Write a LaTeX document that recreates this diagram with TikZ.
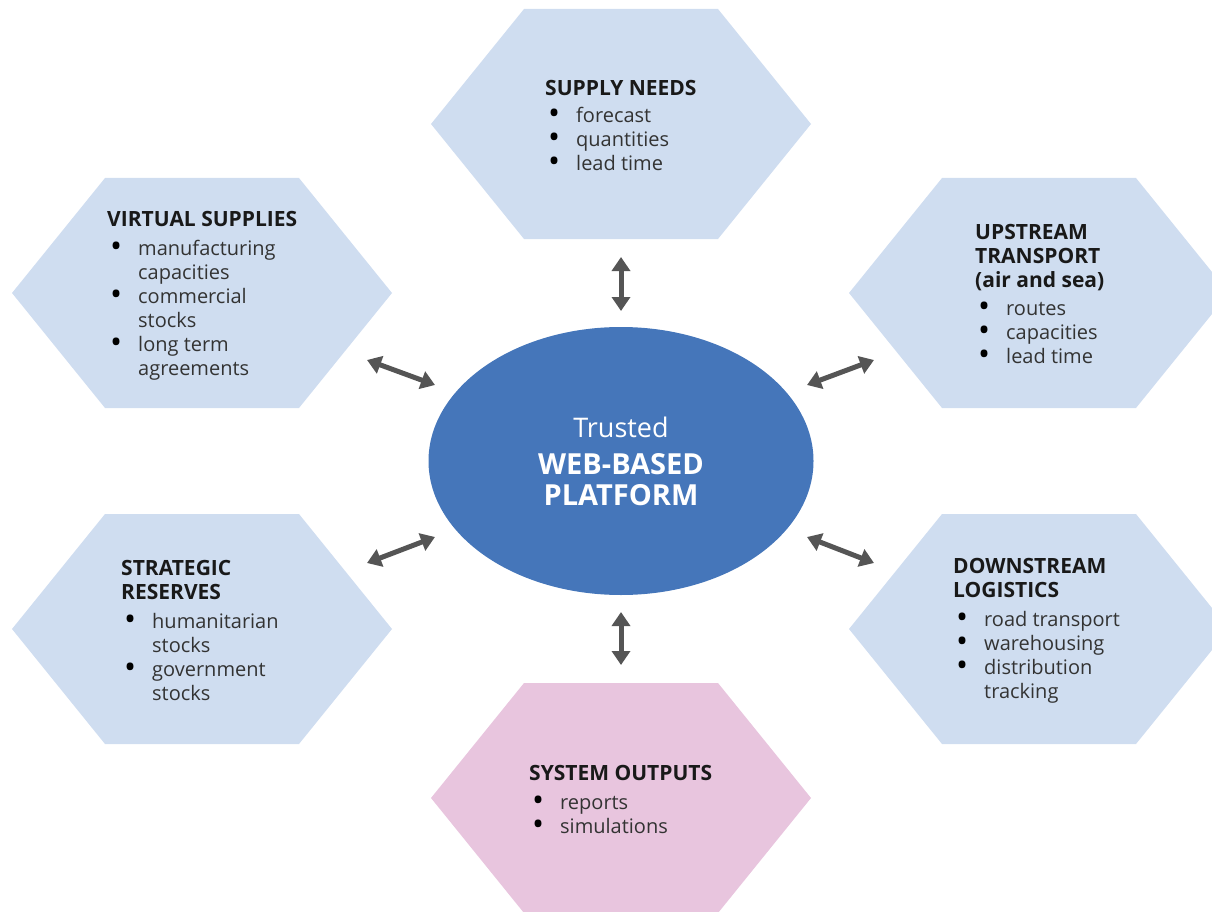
\documentclass[tikz,border=0pt]{standalone}
\usepackage{fontspec}
\setmainfont{Open Sans}
\usetikzlibrary{shapes.geometric,arrows.meta}
\definecolor{hexblue}{HTML}{CFDDF0}
\definecolor{hexpink}{HTML}{E8C5DE}
\definecolor{platblue}{HTML}{4576BA}
\definecolor{arrowgray}{HTML}{555555}
\definecolor{bodygray}{HTML}{333333}
\newcommand{\hexitem}{\hspace*{3pt}\makebox[28pt][l]{\smash{\raisebox{-0.12em}{\scalebox{1.6}{\textcolor{black}{\textbullet}}}}}}
\newcommand{\hexcont}{\hspace*{31pt}}
\newcommand{\hexhead}[1]{\textcolor{black!90}{\fontsize{21}{24}\selectfont\bfseries #1}}

\begin{document}
\begin{tikzpicture}[x=1pt,y=-1pt,
    hexlabel/.style={anchor=north west,inner sep=0pt,align=left,text=bodygray,font=\fontsize{20}{24}\selectfont},
    link/.style={draw=arrowgray,line width=5pt,{Triangle[width=18pt,length=14pt]}-{Triangle[width=18pt,length=14pt]}}]
\useasboundingbox (0,0) rectangle (1212,912);
\clip (0,0) rectangle (1212,912);
% hexagons
\foreach \cx/\cy/\col in {621/124/hexblue,202/293/hexblue,1039/293/hexblue,202/629/hexblue,1039/629/hexblue,621/798/hexpink}
    \fill[fill=\col] (\cx,\cy) ++(-190,0) -- ++(93,-115) -- ++(194,0) -- ++(93,115) -- ++(-93,115) -- ++(-194,0) -- cycle;
% central platform
\node (plat) [ellipse,fill=platblue,minimum width=385pt,minimum height=268pt,inner sep=0pt,align=center,text=white,font=\fontsize{29}{31}\selectfont] at (621,461)
    {{\fontsize{27}{31}\selectfont Trusted}\\[6pt]\textbf{WEB-BASED}\\\textbf{PLATFORM}};
% texts
\node (supply) [hexlabel] at (545,80) {\hexhead{SUPPLY NEEDS}\\[3pt]
    \hexitem forecast\\\hexitem quantities\\\hexitem lead time};
\node (virtual) [hexlabel] at (107,211) {\hexhead{VIRTUAL SUPPLIES}\\[5pt]
    \hexitem manufacturing\\\hexcont capacities\\\hexitem commercial\\\hexcont stocks\\\hexitem long term\\\hexcont agreements};
\node (upstream) [hexlabel] at (975,224) {\hexhead{UPSTREAM}\\\hexhead{TRANSPORT}\\\hexhead{(air and sea)}\\[4pt]
    \hexitem routes\\\hexitem capacities\\\hexitem lead time};
\node (reserves) [hexlabel] at (121,560) {\hexhead{STRATEGIC}\\\hexhead{RESERVES}\\[5pt]
    \hexitem humanitarian\\\hexcont stocks\\\hexitem government\\\hexcont stocks};
\node (downstream) [hexlabel] at (953,558) {\hexhead{DOWNSTREAM}\\\hexhead{LOGISTICS}\\[5pt]
    \hexitem road transport\\\hexitem warehousing\\\hexitem distribution\\\hexcont tracking};
\node (outputs) [hexlabel] at (529,765) {\hexhead{SYSTEM OUTPUTS}\\[5pt]
    \hexitem reports\\\hexitem simulations};
% arrow ends
\coordinate (top1) at (621,257);  \coordinate (top2) at (621,311);
\coordinate (bot1) at (621,612);  \coordinate (bot2) at (621,665);
\coordinate (ul1) at (367,360);   \coordinate (ul2) at (435,385);
\coordinate (ur1) at (874,360);   \coordinate (ur2) at (807,385);
\coordinate (ll1) at (367,563);   \coordinate (ll2) at (435,537);
\coordinate (lr1) at (874,563);   \coordinate (lr2) at (807,537);
\draw[link] (top1) -- (top2);
\draw[link] (bot1) -- (bot2);
\draw[link] (ul1) -- (ul2);
\draw[link] (ur1) -- (ur2);
\draw[link] (ll1) -- (ll2);
\draw[link] (lr1) -- (lr2);
\end{tikzpicture}
\end{document}
